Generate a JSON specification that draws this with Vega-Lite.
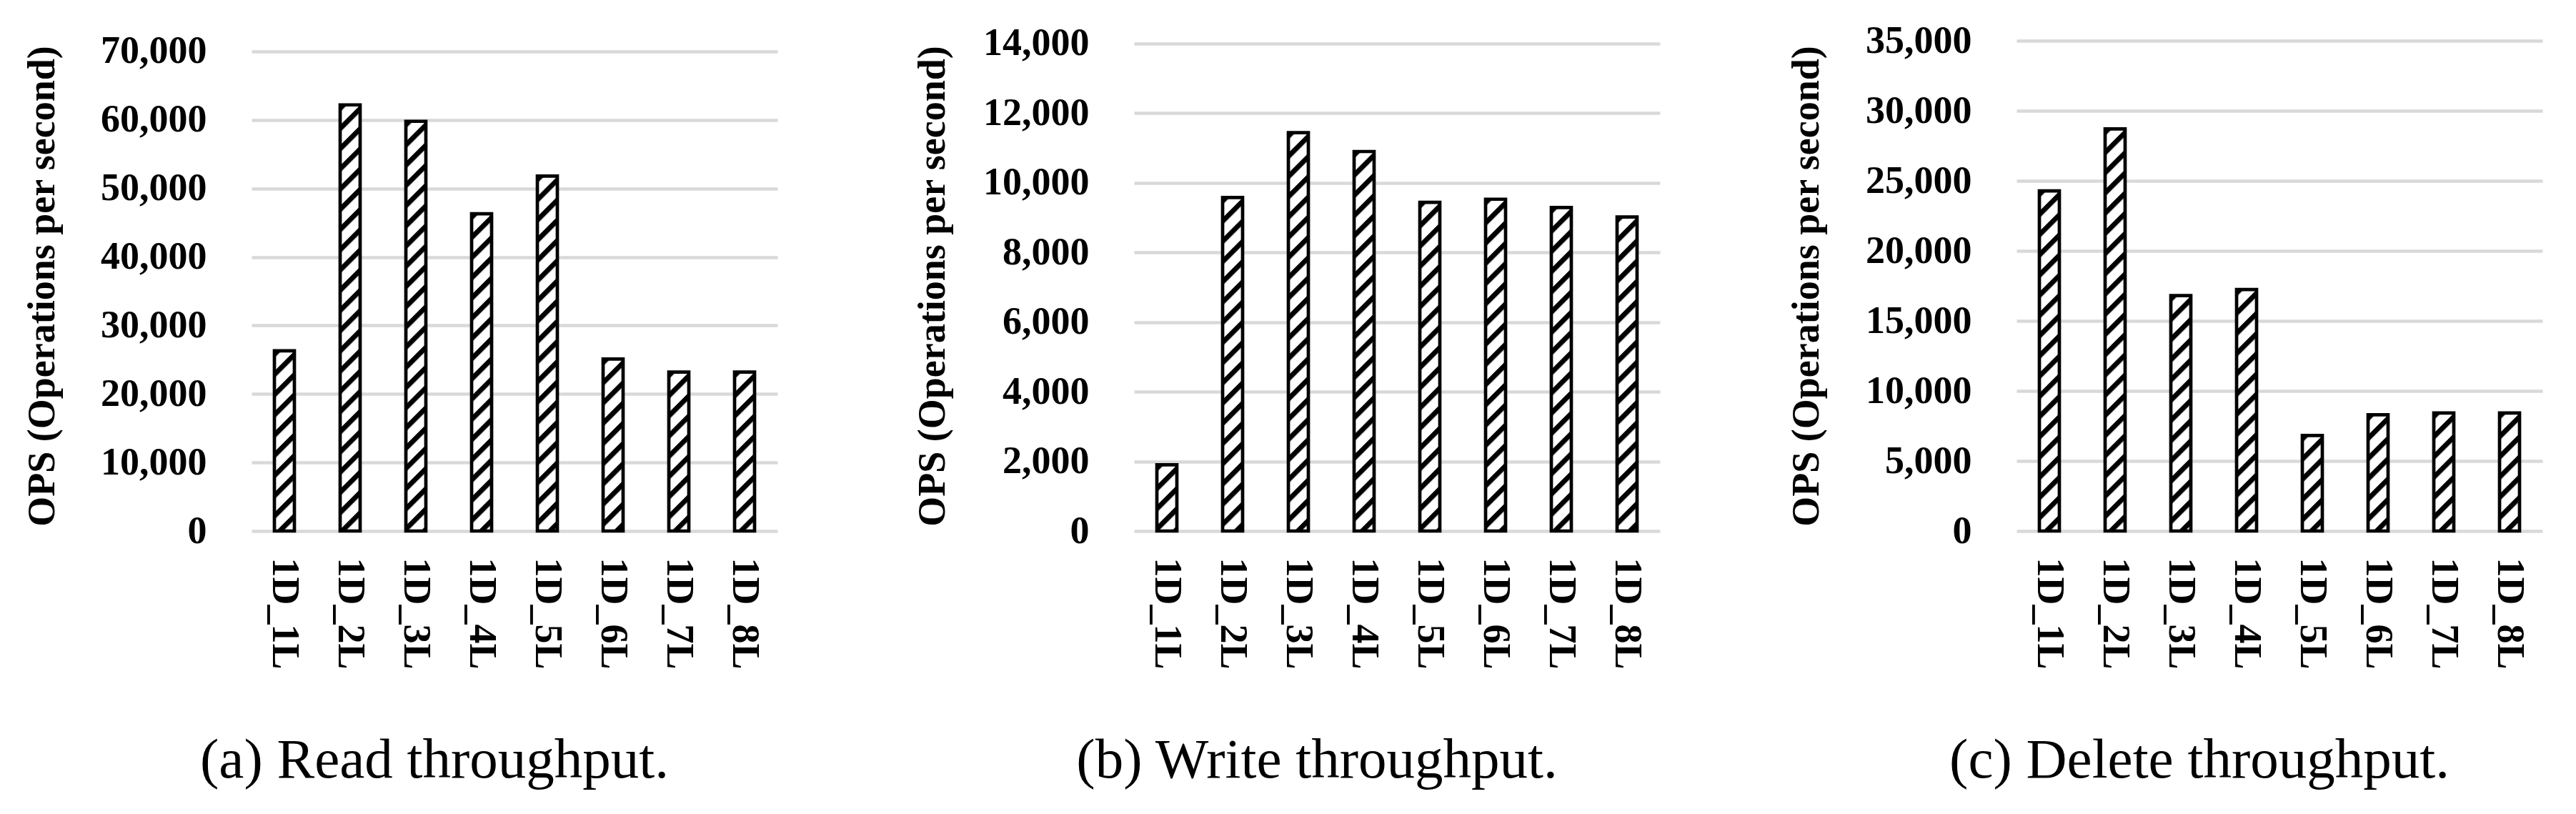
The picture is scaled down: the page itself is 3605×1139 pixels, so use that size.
{
  "$schema": "https://vega.github.io/schema/vega-lite/v6.json",
  "background": "white",
  "padding": {"left": 32, "top": 30, "right": 35, "bottom": 0},
  "bounds": "flush",
  "spacing": 499,
  "config": {
    "view": {"stroke": null},
    "font": "Liberation Serif",
    "axis": {
      "labelFont": "Liberation Serif",
      "titleFont": "Liberation Serif",
      "labelFontWeight": "bold",
      "titleFontWeight": "bold",
      "labelFontSize": 54,
      "titleFontSize": 54,
      "labelColor": "black",
      "titleColor": "black",
      "domain": false,
      "ticks": false,
      "tickSize": 0,
      "titleLimit": 1000,
      "labelLimit": 400
    },
    "axisY": {"grid": true, "gridColor": "#d9d9d9", "gridWidth": 4.3, "labelPadding": 63, "format": ",d"},
    "axisX": {"grid": false, "labelAngle": 90, "labelPadding": 37},
    "title": {
      "font": "Liberation Serif",
      "fontSize": 79,
      "fontWeight": "normal",
      "color": "black",
      "orient": "bottom",
      "anchor": "middle",
      "frame": "group",
      "dx": -112,
      "offset": 90,
      "limit": 0
    }
  },
  "datasets": {
    "read": [
      {"config": "1D_1L", "ops": 26300},
      {"config": "1D_2L", "ops": 62200},
      {"config": "1D_3L", "ops": 59800},
      {"config": "1D_4L", "ops": 46300},
      {"config": "1D_5L", "ops": 51800},
      {"config": "1D_6L", "ops": 25100},
      {"config": "1D_7L", "ops": 23200},
      {"config": "1D_8L", "ops": 23200}
    ],
    "write": [
      {"config": "1D_1L", "ops": 1900},
      {"config": "1D_2L", "ops": 9580},
      {"config": "1D_3L", "ops": 11440},
      {"config": "1D_4L", "ops": 10900},
      {"config": "1D_5L", "ops": 9440},
      {"config": "1D_6L", "ops": 9530},
      {"config": "1D_7L", "ops": 9290},
      {"config": "1D_8L", "ops": 9020}
    ],
    "delete": [
      {"config": "1D_1L", "ops": 24280},
      {"config": "1D_2L", "ops": 28710},
      {"config": "1D_3L", "ops": 16800},
      {"config": "1D_4L", "ops": 17240},
      {"config": "1D_5L", "ops": 6820},
      {"config": "1D_6L", "ops": 8300},
      {"config": "1D_7L", "ops": 8420},
      {"config": "1D_8L", "ops": 8420}
    ]
  },
  "hconcat": [
    {
      "width": 736,
      "height": 686,
      "data": {"name": "read"},
      "title": {"text": "(a) Read throughput."},
      "encoding": {
        "x": {
          "field": "config", "type": "nominal", "sort": null,
          "scale": {"type": "band", "paddingInner": 0.696, "paddingOuter": 0.348},
          "axis": {"title": null}
        },
        "y": {
          "field": "ops", "type": "quantitative",
          "scale": {"domain": [0, 71564], "nice": false},
          "axis": {"title": "OPS (Operations per second)", "titlePadding": 66, "values": [0, 10000, 20000, 30000, 40000, 50000, 60000, 70000]}
        }
      },
      "layer": [
        {
          "mark": {"type": "image", "aspect": false},
          "encoding": {
            "y2": {"datum": 0},
            "url": {"value": "data:image/svg+xml,%3Csvg%20xmlns='http://www.w3.org/2000/svg'%3E%3Cdefs%3E%3Cpattern%20id='h'%20patternUnits='userSpaceOnUse'%20width='20'%20height='20'%20patternTransform='rotate(45)'%3E%3Crect%20width='7'%20height='20'%20fill='black'/%3E%3C/pattern%3E%3C/defs%3E%3Crect%20width='100%25'%20height='100%25'%20fill='white'/%3E%3Crect%20width='100%25'%20height='100%25'%20fill='url(%23h)'/%3E%3C/svg%3E"}
          }
        },
        {"mark": {"type": "bar", "fill": "transparent", "stroke": "black", "strokeWidth": 4.7}}
      ]
    },
    {
      "width": 736,
      "height": 686,
      "data": {"name": "write"},
      "title": {"text": "(b) Write throughput."},
      "encoding": {
        "x": {
          "field": "config", "type": "nominal", "sort": null,
          "scale": {"type": "band", "paddingInner": 0.696, "paddingOuter": 0.348},
          "axis": {"title": null}
        },
        "y": {
          "field": "ops", "type": "quantitative",
          "scale": {"domain": [0, 14082], "nice": false},
          "axis": {"title": "OPS (Operations per second)", "titlePadding": 55, "values": [0, 2000, 4000, 6000, 8000, 10000, 12000, 14000]}
        }
      },
      "layer": [
        {
          "mark": {"type": "image", "aspect": false},
          "encoding": {
            "y2": {"datum": 0},
            "url": {"value": "data:image/svg+xml,%3Csvg%20xmlns='http://www.w3.org/2000/svg'%3E%3Cdefs%3E%3Cpattern%20id='h'%20patternUnits='userSpaceOnUse'%20width='20'%20height='20'%20patternTransform='rotate(45)'%3E%3Crect%20width='7'%20height='20'%20fill='black'/%3E%3C/pattern%3E%3C/defs%3E%3Crect%20width='100%25'%20height='100%25'%20fill='white'/%3E%3Crect%20width='100%25'%20height='100%25'%20fill='url(%23h)'/%3E%3C/svg%3E"}
          }
        },
        {"mark": {"type": "bar", "fill": "transparent", "stroke": "black", "strokeWidth": 4.7}}
      ]
    },
    {
      "width": 736,
      "height": 686,
      "data": {"name": "delete"},
      "title": {"text": "(c) Delete throughput."},
      "encoding": {
        "x": {
          "field": "config", "type": "nominal", "sort": null,
          "scale": {"type": "band", "paddingInner": 0.696, "paddingOuter": 0.348},
          "axis": {"title": null}
        },
        "y": {
          "field": "ops", "type": "quantitative",
          "scale": {"domain": [0, 35000], "nice": false},
          "axis": {"title": "OPS (Operations per second)", "titlePadding": 67, "values": [0, 5000, 10000, 15000, 20000, 25000, 30000, 35000]}
        }
      },
      "layer": [
        {
          "mark": {"type": "image", "aspect": false},
          "encoding": {
            "y2": {"datum": 0},
            "url": {"value": "data:image/svg+xml,%3Csvg%20xmlns='http://www.w3.org/2000/svg'%3E%3Cdefs%3E%3Cpattern%20id='h'%20patternUnits='userSpaceOnUse'%20width='20'%20height='20'%20patternTransform='rotate(45)'%3E%3Crect%20width='7'%20height='20'%20fill='black'/%3E%3C/pattern%3E%3C/defs%3E%3Crect%20width='100%25'%20height='100%25'%20fill='white'/%3E%3Crect%20width='100%25'%20height='100%25'%20fill='url(%23h)'/%3E%3C/svg%3E"}
          }
        },
        {"mark": {"type": "bar", "fill": "transparent", "stroke": "black", "strokeWidth": 4.7}}
      ]
    }
  ]
}
